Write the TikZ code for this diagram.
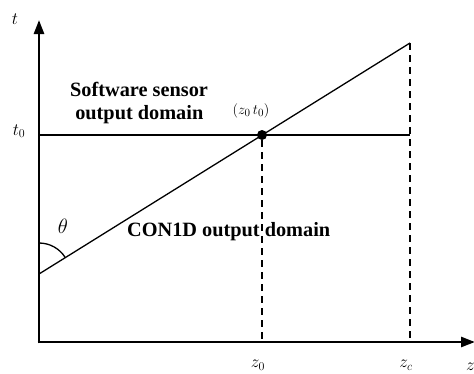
\documentclass[tikz,border=0pt]{standalone}
\usepackage{fontspec}
\setmainfont{Liberation Serif}
\usetikzlibrary{arrows.meta,calc}
\begin{document}
\begin{tikzpicture}[x=1pt,y=-1pt,
  axis/.style={line width=2.6pt,-{Triangle[length=14pt,width=10pt]}},
  thin/.style={line width=1.3pt},
  dashline/.style={line width=1.8pt,dash pattern=on 7pt off 5pt},
  dot/.style={circle,fill=black,inner sep=0pt,minimum size=10pt},
  boldtxt/.style={font=\fontsize{20.3}{23}\selectfont\bfseries,align=left,inner sep=0pt},
  lbl/.style={inner sep=0pt,font=\fontsize{18}{18}\selectfont}]
\useasboundingbox (0,0) rectangle (474,373);
\coordinate (O) at (39,342);
\coordinate (ytip) at (39,20);
\coordinate (xtip) at (475,342);
\coordinate (t0l) at (39,135);
\coordinate (t0r) at (410,135);
\coordinate (A) at (39,274);
\coordinate (B) at (410,43);
\coordinate (z0b) at (262,342);
\coordinate (zcb) at (410,342);
\node[dot] (P) at (262,135) {};
% axes
\draw[axis] ($(O)+(0,1.3)$) -- (ytip);
\draw[axis] ($(O)+(-1.3,0)$) -- (xtip);
% lines
\draw[thin] (t0l) -- (t0r);
\draw[thin] (A) -- (B);
\draw[dashline] (P) -- (z0b);
\draw[dashline] (B) -- (zcb);
\draw[thin] ($(A)+(0,-31)$) arc[start angle=-90,end angle=-31.9,radius=31];
% labels
\node[lbl] (tl) at (15,19) {$t$};
\node[lbl] (t0lab) at (19,131) {$t_0$};
\node[lbl,font=\fontsize{21}{21}\selectfont] (th) at (63,226) {$\theta$};
\node[lbl,font=\fontsize{15}{15}\selectfont] (pl) at (251,111) {$(z_0\,t_0)$};
\node[lbl] (z0l) at (258,365) {$z_0$};
\node[lbl] (zcl) at (406,365) {$z_c$};
\node[lbl,anchor=west] (zl) at (466,367) {$z$};
\node[boldtxt,anchor=north west] (sw) at (70,82) {Software sensor\\\ output domain};
\node[boldtxt,anchor=west] (con) at (127,232) {CON1D output domain};
\end{tikzpicture}
\end{document}
